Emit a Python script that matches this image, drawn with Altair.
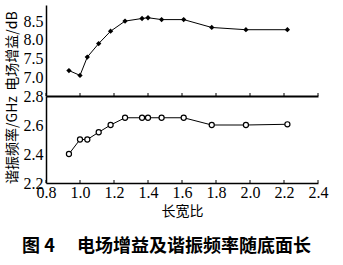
import altair as alt
import pandas as pd

ratio = [0.935, 1.0, 1.043, 1.11, 1.18, 1.265, 1.365, 1.40, 1.48, 1.61, 1.775, 1.976, 2.22]
gain = [7.18, 7.05, 7.54, 7.90, 8.23, 8.50, 8.57, 8.59, 8.54, 8.54, 8.33, 8.27, 8.27]
freq = [2.40, 2.50, 2.50, 2.55, 2.60, 2.65, 2.65, 2.65, 2.65, 2.65, 2.60, 2.60, 2.605]
x_ticks = [0.8, 1.0, 1.2, 1.4, 1.6, 1.8, 2.0, 2.2, 2.4]
gain_ticks = [7.0, 7.5, 8.0, 8.5]
freq_ticks = [2.2, 2.4, 2.6, 2.8]

df = pd.DataFrame({"r": ratio, "g": gain, "f": freq})
dt = pd.DataFrame({"t": x_ticks})

W = 272
H1 = 91
H2 = 87
serif = "Liberation Serif"
cjk = "Noto Sans CJK SC"

xscale = alt.Scale(domain=[0.8, 2.4], nice=False)

ax_top_x = alt.Axis(labels=False, ticks=False, title=None, domainWidth=2, values=x_ticks)
ax_top_y = alt.Axis(values=gain_ticks, format=".1f", title="电场增益/dB")
ax_bot_x = alt.Axis(values=x_ticks, format=".1f", title="长宽比", labelPadding=1, titlePadding=4)
ax_bot_y = alt.Axis(values=freq_ticks, format=".1f", title="谐振频率/GHz")

# ---------- top panel ----------
top_base = alt.Chart(df).encode(
    x=alt.X("r:Q", scale=xscale, axis=ax_top_x),
    y=alt.Y("g:Q", scale=alt.Scale(domain=[6.5, 8.93], nice=False, zero=False), axis=ax_top_y),
)
top_line = top_base.mark_line(color="black", strokeWidth=1)
top_pts = top_base.mark_point(shape="diamond", filled=True, color="black", size=28, opacity=1)
top_ticks = alt.Chart(dt).mark_rule(color="black", strokeWidth=1).encode(
    x=alt.X("t:Q", scale=xscale, axis=ax_top_x), y=alt.value(H1), y2=alt.value(H1 - 3))
top = alt.layer(top_line, top_pts, top_ticks).properties(width=W, height=H1)

# ---------- bottom panel ----------
bot_base = alt.Chart(df).encode(
    x=alt.X("r:Q", scale=xscale, axis=ax_bot_x),
    y=alt.Y("f:Q", scale=alt.Scale(domain=[2.2, 2.8], nice=False, zero=False), axis=ax_bot_y),
)
bot_line = bot_base.mark_line(color="black", strokeWidth=1)
bot_pts = bot_base.mark_point(shape="circle", filled=False, color="black", fill="white",
                              size=26, strokeWidth=1.2, opacity=1)
bot_ticks = alt.Chart(dt).mark_rule(color="black", strokeWidth=1).encode(
    x=alt.X("t:Q", scale=xscale, axis=ax_bot_x), y=alt.value(H2), y2=alt.value(H2 - 3))
bottom = alt.layer(bot_line, bot_pts, bot_ticks).properties(width=W, height=H2)

chart = alt.vconcat(top, bottom, spacing=0, bounds="flush").resolve_scale(y="independent").properties(
    title=alt.TitleParams("图 4\u3000 电场增益及谐振频率随底面长", orient="bottom",
                          anchor="middle", font=cjk, fontSize=18, fontWeight="bold",
                          color="black", offset=20),
    padding={"left": 5, "top": 5, "right": 5, "bottom": 5},
    background="white",
).configure_view(stroke=None).configure_axis(
    grid=False, ticks=False, labelFont=serif, labelFontSize=16, labelColor="black",
    labelOverlap=False, labelFlush=False, labelPadding=3,
    domainColor="black", domainWidth=1.5,
    titleFont=cjk, titleFontSize=14, titleFontWeight="normal", titleColor="black",
    titlePadding=4,
)

chart.save("out.html", embed_options={"renderer": "svg", "actions": False})
